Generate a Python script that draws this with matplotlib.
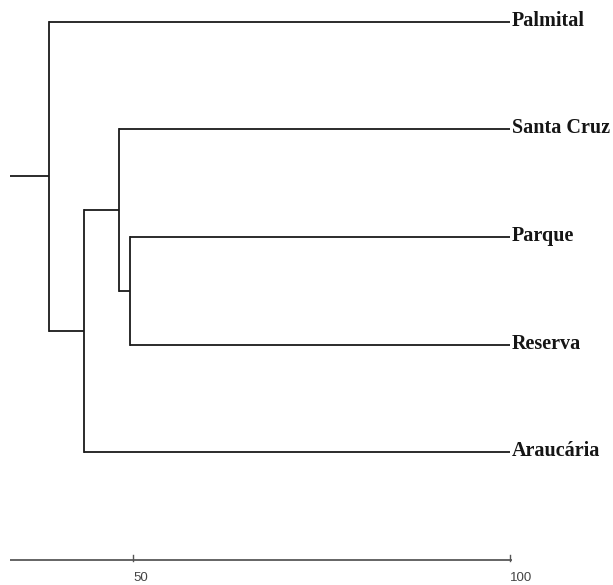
import matplotlib
matplotlib.use("Agg")
import matplotlib.pyplot as plt

# Leaves, top to bottom
leaves = ["Palmital", "Santa Cruz", "Parque", "Reserva", "Araucária"]
# Merges: (left child, right child, similarity height); children are leaf indices or "n<k>" for earlier merges
merges = [
    (2, 3, 49.6),          # n0: Parque + Reserva
    (1, "n0", 48.1),       # n1: Santa Cruz + n0
    ("n1", 4, 43.5),       # n2: n1 + Araucária
    (0, "n2", 38.8),       # n3: Palmital + n2 (root)
]
leaf_level = 100.0
axis_start = 33.7
axis_ticks = [50, 100]
axis_ticklabels = ["50", "100"]

fig = plt.figure(figsize=(6.13, 5.85), dpi=100)
ax = fig.add_axes([0, 0, 1, 1])
ax.set_xlim(32.36, 113.66)
ax.set_ylim(5.233, -0.2016)
ax.axis("off")

lw = 1.3
col = "#1a1a1a"

pos = {}
for i, name in enumerate(leaves):
    pos[i] = (leaf_level, float(i))

for k, (a, b, h) in enumerate(merges):
    xa, ya = pos[a]
    xb, yb = pos[b]
    ax.plot([xa, h], [ya, ya], color=col, lw=lw, solid_capstyle="butt")
    ax.plot([xb, h], [yb, yb], color=col, lw=lw, solid_capstyle="butt")
    ax.plot([h, h], [ya, yb], color=col, lw=lw, solid_capstyle="projecting")
    pos["n%d" % k] = (h, (ya + yb) / 2)

# root stem
rx, ry = pos["n%d" % (len(merges) - 1)]
ax.plot([axis_start, rx], [ry, ry], color=col, lw=lw, solid_capstyle="butt")

# leaf labels
for i, name in enumerate(leaves):
    ax.text(leaf_level + 0.2, i - 0.01, name, ha="left", va="center",
            fontfamily="Liberation Serif", fontweight="bold", fontsize=14.5,
            color="#151515")

# bottom scale axis
axis_y = 5.0
ax.plot([axis_start, 100.2], [axis_y, axis_y], color="#3a3a3a", lw=1.1,
        solid_capstyle="butt")
for t, lab in zip(axis_ticks, axis_ticklabels):
    ax.plot([t, t], [axis_y + 0.01, axis_y - 0.05], color="#555555", lw=1.0)
    ax.text(t + 0.05, axis_y + 0.11, lab, ha="left", va="top",
            fontfamily="Liberation Sans", fontsize=9.5, color="#444444")

fig.savefig("out.png", dpi=100)
